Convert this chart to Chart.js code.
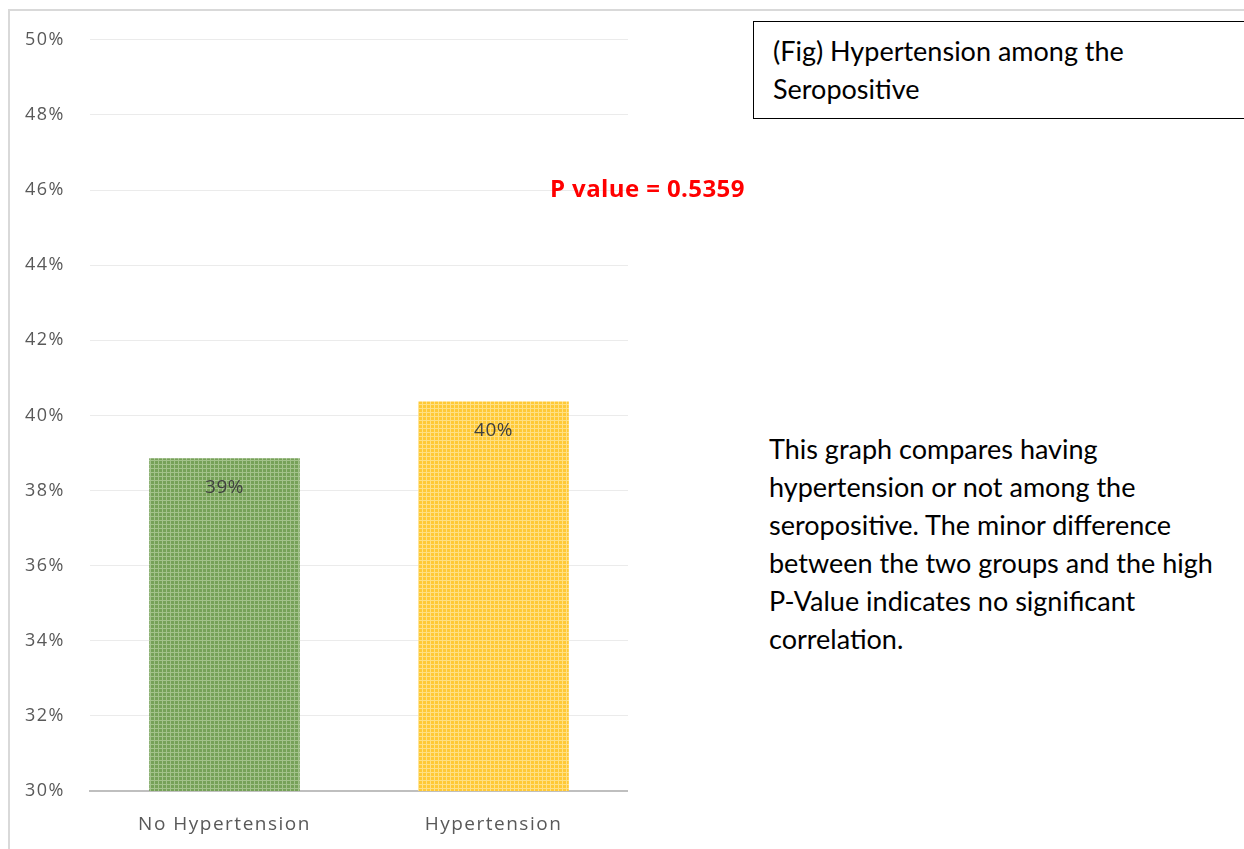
<!DOCTYPE html>
<html>
<head>
<meta charset="utf-8">
<script src="https://cdn.jsdelivr.net/npm/chart.js@4"></script>
<style>
  body { margin: 0; background: #fff; width: 1244px; height: 849px; overflow: hidden; position: relative; font-family: Lato, sans-serif; }
  #frame { position: absolute; left: 8px; top: 9px; width: 1250px; height: 860px; border: 2px solid #d9d9d9; box-sizing: border-box; }
  #chartBox { position: absolute; left: 10px; top: 4px; width: 618px; height: 845px; }
  #titleBox { position: absolute; left: 753px; top: 21px; width: 500px; height: 98px; border: 1.5px solid #000; box-sizing: border-box; padding: 10px 0 0 19px; font-size: 27px; line-height: 38px; color: #000; }
  #pval { position: absolute; left: 550px; top: 171px; font-family: "Open Sans", sans-serif; font-size: 24px; font-weight: bold; letter-spacing: 0.4px; color: #ff0000; }
  #note { position: absolute; left: 769px; top: 430px; width: 475px; font-size: 27px; line-height: 38px; color: #000; white-space: nowrap; }
</style>
</head>
<body>
<div id="frame"></div>
<div id="chartBox"><canvas id="barChart"></canvas></div>
<div id="titleBox">(Fig) Hypertension among the<br>Seropositive</div>
<div id="pval">P value = 0.5359</div>
<div id="note">This graph compares having<br>hypertension or not among the<br>seropositive. The minor difference<br>between the two groups and the high<br>P-Value indicates no significant<br>correlation.</div>

<script>
const categories = ['No Hypertension', 'Hypertension'];
const percentValues = [38.86, 40.37];
const barColours = [['#76a158', '#a3c28b'], ['#ffc935', '#ffe083']];
const yTicksMin = 30;
const yTicksMax = 50;

// small grid pattern like the excel fill
function makePattern(base, light) {
    const c = document.createElement('canvas');
    c.width = 4; c.height = 4;
    const ctx = c.getContext('2d');
    ctx.fillStyle = base;
    ctx.fillRect(0, 0, 4, 4);
    ctx.fillStyle = light;
    ctx.fillRect(0, 0, 4, 1);
    ctx.fillRect(0, 0, 1, 4);
    return ctx.createPattern(c, 'repeat');
}

// excel spreads the axis letters out a bit
const spacing = {
    id: 'spacing',
    beforeDraw(chart) {
        chart.ctx.letterSpacing = '1.5px';
    }
};

const barLabels = {
    id: 'barLabels',
    afterDatasetsDraw(chart) {
        const ctx = chart.ctx;
        const meta = chart.getDatasetMeta(0);
        ctx.save();
        ctx.letterSpacing = '0.5px';
        ctx.font = '19px "Open Sans", sans-serif';
        ctx.fillStyle = '#404040';
        ctx.textAlign = 'center';
        ctx.textBaseline = 'middle';
        meta.data.forEach((bar, i) => {
            ctx.fillText(Math.round(percentValues[i]) + '%', bar.x, bar.y + 29);
        });
        ctx.restore();
    }
};

new Chart('barChart', {
    type: 'bar',
    data: {
        labels: categories,
        datasets: [{
            data: percentValues,
            backgroundColor: barColours.map(c => makePattern(c[0], c[1])),
            borderWidth: 0,
            categoryPercentage: 0.56,
            barPercentage: 1
        }]
    },
    options: {
        responsive: true,
        maintainAspectRatio: false,
        animation: false,
        layout: { padding: { top: 16, right: 0, bottom: 0, left: 0 } },
        plugins: { legend: { display: false }, tooltip: { enabled: false } },
        scales: {
            x: {
                grid: { display: false, drawTicks: false },
                border: { color: '#bfbfbf', width: 2 },
                ticks: { color: '#595959', padding: 22, font: { size: 19, family: '"Open Sans", sans-serif' } },
                afterFit: s => { s.height = 58; }
            },
            y: {
                min: yTicksMin,
                max: yTicksMax,
                grid: { color: '#ebebeb', lineWidth: 1, drawTicks: false },
                border: { display: false },
                ticks: {
                    stepSize: 2,
                    color: '#595959',
                    padding: 25,
                    font: { size: 18, family: '"Open Sans", sans-serif' },
                    callback: v => v + '%'
                },
                afterFit: s => { s.width = 80; }
            }
        }
    },
    plugins: [spacing, barLabels]
});
</script>
</body>
</html>
